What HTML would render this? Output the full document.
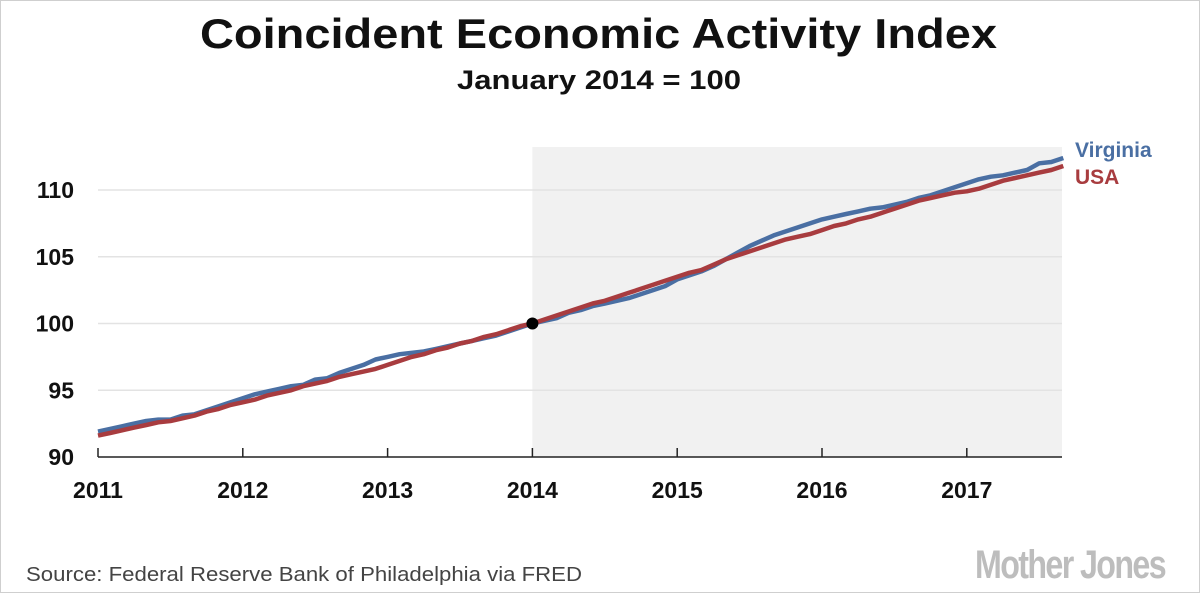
<!DOCTYPE html>
<html><head><meta charset="utf-8"><style>
html,body{margin:0;padding:0;background:#fff;}
svg{display:block;font-family:"Liberation Sans",sans-serif;}
</style></head><body>
<svg id="chart" width="1200" height="593" viewBox="0 0 1200 593" xmlns="http://www.w3.org/2000/svg">
<rect x="0.5" y="0.5" width="1199" height="592" fill="#fff" stroke="#cfcfcf"/>
<text x="200" y="48" font-size="42" font-weight="bold" fill="#111" textLength="797" lengthAdjust="spacingAndGlyphs">Coincident Economic Activity Index</text>
<text x="457" y="89" font-size="27" font-weight="bold" fill="#111" textLength="284" lengthAdjust="spacingAndGlyphs">January 2014 = 100</text>
<g id="plot"></g>
<text x="26" y="581" font-size="20" fill="#444" textLength="556" lengthAdjust="spacingAndGlyphs">Source: Federal Reserve Bank of Philadelphia via FRED</text>
<text x="975" y="578" font-size="40" font-weight="bold" fill="#bdbdbd" textLength="190" lengthAdjust="spacingAndGlyphs" letter-spacing="-2">Mother Jones</text>
</svg>
<script>
const yTicks = [90, 95, 100, 105, 110];
const xTickYears = [2011, 2012, 2013, 2014, 2015, 2016, 2017];
const startYear = 2011;
const virginia = [91.9,92.1,92.3,92.5,92.7,92.8,92.8,93.1,93.2,93.5,93.8,94.1,
94.4,94.7,94.9,95.1,95.3,95.4,95.8,95.9,96.3,96.6,96.9,97.3,
97.5,97.7,97.8,97.9,98.1,98.3,98.5,98.7,98.9,99.1,99.4,99.7,
100.0,100.2,100.4,100.8,101.0,101.3,101.5,101.7,101.9,102.2,102.5,102.8,
103.3,103.6,103.9,104.3,104.8,105.3,105.8,106.2,106.6,106.9,107.2,107.5,
107.8,108.0,108.2,108.4,108.6,108.7,108.9,109.1,109.4,109.6,109.9,110.2,
110.5,110.8,111.0,111.1,111.3,111.5,112.0,112.1,112.4];
const usa = [91.6,91.8,92.0,92.2,92.4,92.6,92.7,92.9,93.1,93.4,93.6,93.9,
94.1,94.3,94.6,94.8,95.0,95.3,95.5,95.7,96.0,96.2,96.4,96.6,
96.9,97.2,97.5,97.7,98.0,98.2,98.5,98.7,99.0,99.2,99.5,99.8,
100.0,100.3,100.6,100.9,101.2,101.5,101.7,102.0,102.3,102.6,102.9,103.2,
103.5,103.8,104.0,104.4,104.8,105.1,105.4,105.7,106.0,106.3,106.5,106.7,
107.0,107.3,107.5,107.8,108.0,108.3,108.6,108.9,109.2,109.4,109.6,109.8,
109.9,110.1,110.4,110.7,110.9,111.1,111.3,111.5,111.8];
const baseIndex = 36;

const NS = "http://www.w3.org/2000/svg";
const g = document.getElementById("plot");
const X0 = 98, X1 = 1062, YB = 457, YT = 147;
const pxPerYear = 144.8;
const xOf = t => X0 + (t - startYear) * pxPerYear;
const yOf = v => YB - (v - 90) * (267 / 20);
const monthT = i => startYear + i / 12;
function mk(tag, attrs){ const e = document.createElementNS(NS, tag); for (const k in attrs) e.setAttribute(k, attrs[k]); g.appendChild(e); return e; }

const shade = mk("rect", {x: xOf(2014), y: YT, width: X1 - xOf(2014), height: YB - YT, fill: "#f1f1f1"});



yTicks.forEach(v => {
  if (v > 90) {
    const l = mk("line", {x1: X0, x2: X1, y1: yOf(v), y2: yOf(v), stroke: "#e3e3e3", "stroke-width": 1.5});
    
    
  }
  const t = mk("text", {x: 74, y: yOf(v) + 8, "text-anchor": "end", "font-size": 23, "font-weight": "bold", fill: "#111"});
  t.textContent = v;
  
  
});

const ax = mk("line", {x1: X0, x2: X1, y1: YB, y2: YB, stroke: "#222", "stroke-width": 1.5});


xTickYears.forEach(yr => {
  const x = xOf(yr);
  const tk = mk("line", {x1: x, x2: x, y1: YB - 9, y2: YB, stroke: "#222", "stroke-width": 1.5});
  
  
  const t = mk("text", {x: x, y: 498, "text-anchor": "middle", "font-size": 23, "font-weight": "bold", fill: "#111"});
  t.textContent = yr;
  
  
});

function line(vals, color, name){
  const d = vals.map((v, i) => (i ? "L" : "M") + xOf(monthT(i)).toFixed(1) + "," + yOf(v).toFixed(1)).join(" ");
  const p = mk("path", {d: d, fill: "none", stroke: color, "stroke-width": 4.5, "stroke-linejoin": "round"});
  
  
}
line(virginia, "#4a6fa3", "virginia-line");
line(usa, "#a83c3f", "usa-line");

const dot = mk("circle", {cx: xOf(monthT(baseIndex)), cy: yOf(usa[baseIndex]), r: 6, fill: "#000"});



const lv = mk("text", {x: 1075, y: 157, "font-size": 21, "font-weight": "bold", fill: "#4a6fa3"});
lv.textContent = "Virginia";


const lu = mk("text", {x: 1075, y: 184, "font-size": 21, "font-weight": "bold", fill: "#a83c3f"});
lu.textContent = "USA";


</script>
</body></html>
